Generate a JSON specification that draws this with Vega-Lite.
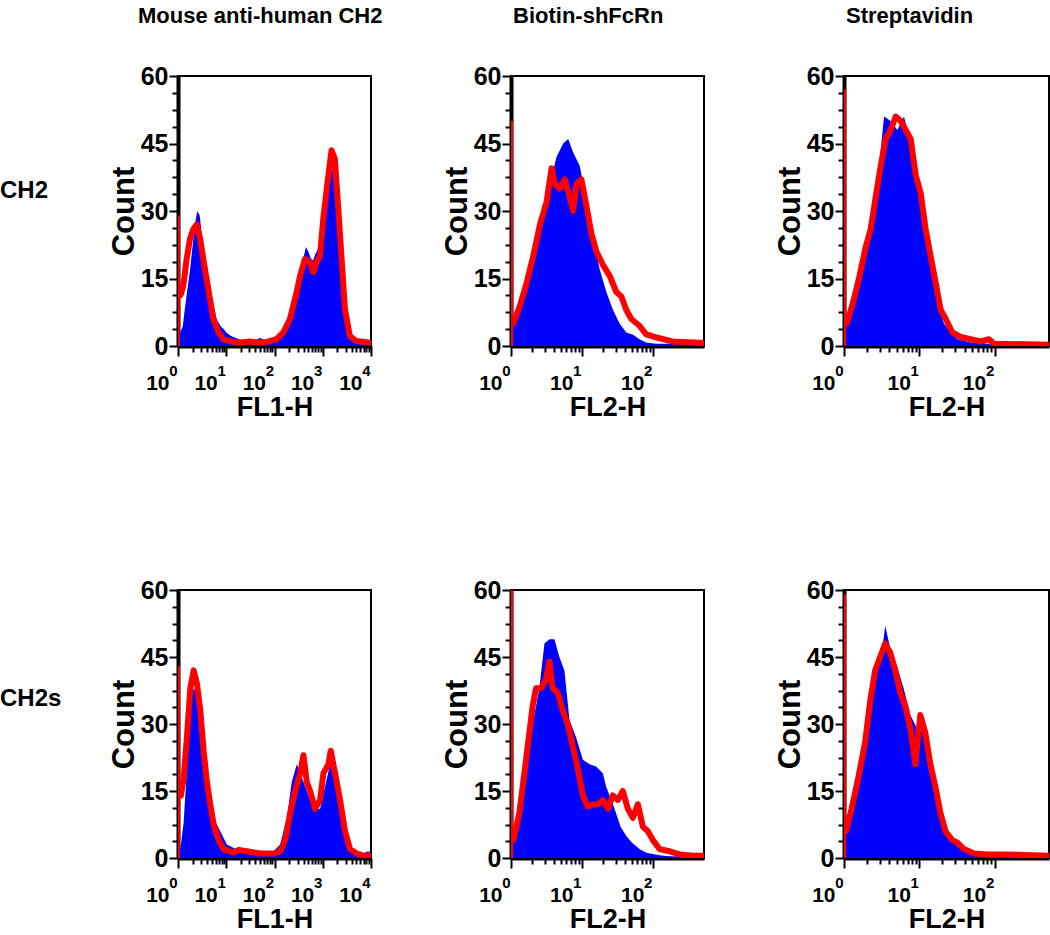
{
  "$schema": "https://vega.github.io/schema/vega-lite/v6.json",
  "padding": {"left": 0, "top": 4, "right": 0, "bottom": 0},
  "background": "white",
  "config": {
    "font": "Liberation Sans",
    "view": {"stroke": "black", "strokeWidth": 2},
    "title": {"font": "Liberation Sans", "fontSize": 22, "fontWeight": "bold", "color": "black", "anchor": "start", "frame": "group"},
    "axis": {
      "labelFont": "Liberation Sans", "labelFontSize": 25, "labelFontWeight": "bold", "labelColor": "black",
      "titleFont": "Liberation Sans", "titleFontWeight": "bold", "titleColor": "black",
      "domainColor": "black", "domainWidth": 4, "tickColor": "black", "tickWidth": 2,
      "grid": false, "labelOverlap": false, "labelBound": false, "zindex": 1
    },
    "axisX": {"labelAlign": "right", "labelFlush": false, "titleFontSize": 27, "titlePadding": 1},
    "axisY": {"labelPadding": 1, "titleFontSize": 31, "titlePadding": 0}
  },
  "columns": 4,
  "align": "each",
  "bounds": "flush",
  "spacing": {"row": 244, "column": 140},
  "concat": [
    {
      "width": 38, "height": 270,
      "view": {"stroke": null},
      "data": {"values": [{"label": "CH2"}]},
      "mark": {"type": "text", "align": "left", "baseline": "middle", "fontSize": 24, "fontWeight": "bold", "color": "black"},
      "encoding": {
        "text": {"field": "label"},
        "x": {"datum": 0, "type": "quantitative", "scale": {"domain": [0, 1]}, "axis": null},
        "y": {"datum": 0.574, "type": "quantitative", "scale": {"domain": [0, 1]}, "axis": null}
      }
    },
    {
      "width": 193, "height": 270,
      "title": {"text": "Mouse anti-human CH2", "dx": -40, "offset": 36},
      "resolve": {"axis": {"x": "independent"}},
      "encoding": {
        "y": {"field": "count", "type": "quantitative", "scale": {"domain": [0, 60], "nice": false},
          "axis": {"title": "Count", "values": [0,3.75,7.5,11.25,15,18.75,22.5,26.25,30,33.75,37.5,41.25,45,48.75,52.5,56.25,60],
            "labelExpr": "datum.value % 15 === 0 ? datum.label : ''",
            "tickSize": {"condition": {"test": "datum.value % 15 === 0", "value": 9}, "value": 6}}}
      },
      "layer": [
        {"data": {"values": [{"fl":1,"count":2},{"fl":1.122,"count":3},{"fl":1.259,"count":4.5},{"fl":1.413,"count":9},{"fl":1.585,"count":13},{"fl":1.778,"count":17},{"fl":1.995,"count":22},{"fl":2.239,"count":27},{"fl":2.512,"count":30},{"fl":2.818,"count":29},{"fl":3.162,"count":24},{"fl":3.548,"count":20.5},{"fl":3.981,"count":17.5},{"fl":4.467,"count":14},{"fl":5.012,"count":11},{"fl":5.623,"count":8.5},{"fl":6.31,"count":6},{"fl":7.079,"count":5},{"fl":7.943,"count":4.2},{"fl":8.913,"count":3.7},{"fl":10,"count":3},{"fl":12.59,"count":2.2},{"fl":15.85,"count":1.8},{"fl":19.95,"count":1.4},{"fl":25.12,"count":1},{"fl":31.62,"count":1.1},{"fl":39.81,"count":1.3},{"fl":50.12,"count":1.8},{"fl":63.1,"count":1.4},{"fl":79.43,"count":1.2},{"fl":100,"count":1.4},{"fl":125.9,"count":2.2},{"fl":158.5,"count":3.5},{"fl":199.5,"count":5.5},{"fl":251.2,"count":8},{"fl":316.2,"count":12},{"fl":354.8,"count":16},{"fl":398.1,"count":19.5},{"fl":446.7,"count":22},{"fl":501.2,"count":21},{"fl":562.3,"count":19.5},{"fl":631,"count":19},{"fl":707.9,"count":20.5},{"fl":794.3,"count":21.5},{"fl":891.3,"count":23},{"fl":1000,"count":29},{"fl":1122,"count":35},{"fl":1259,"count":39},{"fl":1413,"count":41},{"fl":1585,"count":39.5},{"fl":1778,"count":36},{"fl":1995,"count":32},{"fl":2239,"count":25},{"fl":2512,"count":17},{"fl":2818,"count":11},{"fl":3162,"count":4.5},{"fl":3548,"count":2},{"fl":3981,"count":1.1},{"fl":5012,"count":0.7},{"fl":6310,"count":0.5},{"fl":7943,"count":0.5},{"fl":10000,"count":0.6}]},
         "mark": {"type": "area", "color": "#0000ff", "clip": true},
         "encoding": {"x": {"field": "fl", "type": "quantitative", "scale": {"type": "log", "domain": [1, 10000], "nice": false},
           "axis": {"orient": "bottom", "title": "FL1-H", "values": [1,2,3,4,5,6,7,8,9,10,20,30,40,50,60,70,80,90,100,200,300,400,500,600,700,800,900,1000,2000,3000,4000,5000,6000,7000,8000,9000,10000],
             "labelExpr": "datum.value===1||datum.value===10||datum.value===100||datum.value===1000||datum.value===10000 ? '10' : ''",
             "labelFontSize": 21, "labelPadding": 16, "labelOffset": -9,
             "tickSize": {"condition": {"test": "datum.value===1||datum.value===10||datum.value===100||datum.value===1000||datum.value===10000", "value": 10}, "value": 6}}}}},
        {"data": {"values": [{"fl":1.047,"count":11},{"fl":1.148,"count":11.5},{"fl":1.29,"count":13.4},{"fl":1.51,"count":19.3},{"fl":1.77,"count":23.8},{"fl":2.08,"count":26},{"fl":2.44,"count":27},{"fl":2.86,"count":24},{"fl":3.35,"count":19.3},{"fl":3.9,"count":15},{"fl":4.6,"count":10.4},{"fl":5.4,"count":6},{"fl":6.9,"count":3},{"fl":8.7,"count":1.5},{"fl":14,"count":0.9},{"fl":20,"count":0.8},{"fl":30,"count":1},{"fl":45,"count":0.8},{"fl":70,"count":0.9},{"fl":110,"count":1.5},{"fl":152,"count":3},{"fl":209,"count":6},{"fl":288,"count":12},{"fl":339,"count":15.6},{"fl":427,"count":19.3},{"fl":545,"count":18.6},{"fl":636,"count":16.4},{"fl":745,"count":18.6},{"fl":876,"count":20},{"fl":1025,"count":28.3},{"fl":1211,"count":35},{"fl":1520,"count":43.5},{"fl":1780,"count":41.6},{"fl":2100,"count":30.5},{"fl":2460,"count":19.3},{"fl":2880,"count":8.2},{"fl":3650,"count":2.2},{"fl":5000,"count":1.1},{"fl":10000,"count":0.7}]},
         "mark": {"type": "line", "color": "#ff0000", "strokeWidth": 6, "strokeJoin": "round", "clip": true},
         "encoding": {"x": {"field": "fl", "type": "quantitative",
           "axis": {"orient": "bottom", "title": null, "domain": false, "tickOpacity": 0, "tickSize": 10, "values": [1,10,100,1000,10000],
             "labelExpr": "datum.value===1?'0':datum.value===10?'1':datum.value===100?'2':datum.value===1000?'3':'4'",
             "labelFontSize": 15, "labelPadding": 7, "labelOffset": -1}}}},
        {"data": {"values": [{"fl": 1.03, "count": 29}]},
         "mark": {"type": "rule", "color": "#ff0000", "strokeWidth": 2.5, "clip": true},
         "encoding": {"x": {"field": "fl", "type": "quantitative", "axis": null}, "y2": {"datum": 0}}}
      ]
    },
    {
      "width": 193, "height": 270,
      "title": {"text": "Biotin-shFcRn", "dx": 2, "offset": 36},
      "resolve": {"axis": {"x": "independent"}},
      "encoding": {
        "y": {"field": "count", "type": "quantitative", "scale": {"domain": [0, 60], "nice": false},
          "axis": {"title": "Count", "values": [0,3.75,7.5,11.25,15,18.75,22.5,26.25,30,33.75,37.5,41.25,45,48.75,52.5,56.25,60],
            "labelExpr": "datum.value % 15 === 0 ? datum.label : ''",
            "tickSize": {"condition": {"test": "datum.value % 15 === 0", "value": 9}, "value": 6}}}
      },
      "layer": [
        {"data": {"values": [{"fl":1,"count":4},{"fl":1.055,"count":4},{"fl":1.2,"count":7.5},{"fl":1.49,"count":12},{"fl":1.85,"count":17},{"fl":2.29,"count":23},{"fl":2.85,"count":30},{"fl":3.53,"count":36},{"fl":4.38,"count":42},{"fl":5.43,"count":45},{"fl":6.4,"count":46},{"fl":7.52,"count":43},{"fl":9.33,"count":40},{"fl":11.6,"count":32},{"fl":14.4,"count":24},{"fl":17.8,"count":17},{"fl":22.1,"count":12},{"fl":27.4,"count":8},{"fl":33.9,"count":5},{"fl":42.2,"count":3},{"fl":52.5,"count":2.5},{"fl":64.6,"count":1.5},{"fl":80.5,"count":0.8},{"fl":111,"count":0.5},{"fl":190,"count":0.5},{"fl":525,"count":0.5}]},
         "mark": {"type": "area", "color": "#0000ff", "clip": true},
         "encoding": {"x": {"field": "fl", "type": "quantitative", "scale": {"type": "log", "domain": [1, 525], "nice": false},
           "axis": {"orient": "bottom", "title": "FL2-H", "values": [1,2,3,4,5,6,7,8,9,10,20,30,40,50,60,70,80,90,100],
             "labelExpr": "datum.value===1||datum.value===10||datum.value===100 ? '10' : ''",
             "labelFontSize": 21, "labelPadding": 16, "labelOffset": -9,
             "tickSize": {"condition": {"test": "datum.value===1||datum.value===10||datum.value===100", "value": 10}, "value": 6}}}}},
        {"data": {"values": [{"fl":1.05,"count":5},{"fl":1.08,"count":5},{"fl":1.34,"count":9},{"fl":1.66,"count":14},{"fl":2.06,"count":20},{"fl":2.56,"count":27},{"fl":3.17,"count":32},{"fl":3.73,"count":39.5},{"fl":4.15,"count":36},{"fl":4.88,"count":35},{"fl":5.74,"count":37},{"fl":6.75,"count":33},{"fl":7.52,"count":30},{"fl":8.37,"count":36},{"fl":9.84,"count":37},{"fl":11.6,"count":31},{"fl":13.6,"count":25},{"fl":16,"count":21},{"fl":19.8,"count":18},{"fl":24.6,"count":15.6},{"fl":30.5,"count":12},{"fl":35.9,"count":11},{"fl":42.2,"count":8},{"fl":49.6,"count":6},{"fl":64.6,"count":4.5},{"fl":80.5,"count":2.6},{"fl":111,"count":1.9},{"fl":190,"count":1},{"fl":453,"count":0.7},{"fl":525,"count":0.7}]},
         "mark": {"type": "line", "color": "#ff0000", "strokeWidth": 6, "strokeJoin": "round", "clip": true},
         "encoding": {"x": {"field": "fl", "type": "quantitative",
           "axis": {"orient": "bottom", "title": null, "domain": false, "tickOpacity": 0, "tickSize": 10, "values": [1,10,100],
             "labelExpr": "datum.value===1?'0':datum.value===10?'1':'2'",
             "labelFontSize": 15, "labelPadding": 7, "labelOffset": -1}}}},
        {"data": {"values": [{"fl": 1.03, "count": 50}]},
         "mark": {"type": "rule", "color": "#ff0000", "strokeWidth": 2.5, "clip": true},
         "encoding": {"x": {"field": "fl", "type": "quantitative", "axis": null}, "y2": {"datum": 0}}}
      ]
    },
    {
      "width": 205, "height": 270,
      "title": {"text": "Streptavidin", "dx": 2, "offset": 36},
      "resolve": {"axis": {"x": "independent"}},
      "encoding": {
        "y": {"field": "count", "type": "quantitative", "scale": {"domain": [0, 60], "nice": false},
          "axis": {"title": "Count", "values": [0,3.75,7.5,11.25,15,18.75,22.5,26.25,30,33.75,37.5,41.25,45,48.75,52.5,56.25,60],
            "labelExpr": "datum.value % 15 === 0 ? datum.label : ''",
            "tickSize": {"condition": {"test": "datum.value % 15 === 0", "value": 9}, "value": 6}}}
      },
      "layer": [
        {"data": {"values": [{"fl":1,"count":5},{"fl":1.05,"count":5},{"fl":1.22,"count":10},{"fl":1.5,"count":14},{"fl":1.84,"count":20},{"fl":2.26,"count":29},{"fl":2.77,"count":36},{"fl":3.4,"count":51},{"fl":4.16,"count":50},{"fl":5.11,"count":48},{"fl":6.25,"count":51},{"fl":7.67,"count":45},{"fl":9.4,"count":37},{"fl":11.5,"count":29},{"fl":14.1,"count":20},{"fl":17.3,"count":10},{"fl":21.2,"count":5},{"fl":26.1,"count":3},{"fl":31.9,"count":1.5},{"fl":48,"count":0.8},{"fl":80,"count":0.5},{"fl":133,"count":0.8},{"fl":221,"count":0.8},{"fl":368,"count":0.6},{"fl":525,"count":0.3}]},
         "mark": {"type": "area", "color": "#0000ff", "clip": true},
         "encoding": {"x": {"field": "fl", "type": "quantitative", "scale": {"type": "log", "domain": [1, 525], "nice": false},
           "axis": {"orient": "bottom", "title": "FL2-H", "values": [1,2,3,4,5,6,7,8,9,10,20,30,40,50,60,70,80,90,100],
             "labelExpr": "datum.value===1||datum.value===10||datum.value===100 ? '10' : ''",
             "labelFontSize": 21, "labelPadding": 16, "labelOffset": -9,
             "tickSize": {"condition": {"test": "datum.value===1||datum.value===10||datum.value===100", "value": 10}, "value": 6}}}}},
        {"data": {"values": [{"fl":1.05,"count":5},{"fl":1.08,"count":5},{"fl":1.29,"count":9},{"fl":1.58,"count":15},{"fl":1.94,"count":22},{"fl":2.26,"count":26},{"fl":2.63,"count":33},{"fl":3.07,"count":40},{"fl":3.57,"count":46},{"fl":4.16,"count":48},{"fl":4.85,"count":51},{"fl":5.65,"count":50},{"fl":6.59,"count":48},{"fl":7.67,"count":46},{"fl":8.94,"count":38},{"fl":10.4,"count":34},{"fl":12.1,"count":26},{"fl":14.1,"count":20},{"fl":16.5,"count":14},{"fl":19.2,"count":8},{"fl":22.4,"count":6},{"fl":27.4,"count":3},{"fl":35.4,"count":2},{"fl":48,"count":1.5},{"fl":65.2,"count":1},{"fl":84.1,"count":1.5},{"fl":97.8,"count":0.5},{"fl":525,"count":0.3}]},
         "mark": {"type": "line", "color": "#ff0000", "strokeWidth": 6, "strokeJoin": "round", "clip": true},
         "encoding": {"x": {"field": "fl", "type": "quantitative",
           "axis": {"orient": "bottom", "title": null, "domain": false, "tickOpacity": 0, "tickSize": 10, "values": [1,10,100],
             "labelExpr": "datum.value===1?'0':datum.value===10?'1':'2'",
             "labelFontSize": 15, "labelPadding": 7, "labelOffset": -1}}}},
        {"data": {"values": [{"fl": 1.03, "count": 57}]},
         "mark": {"type": "rule", "color": "#ff0000", "strokeWidth": 2.5, "clip": true},
         "encoding": {"x": {"field": "fl", "type": "quantitative", "axis": null}, "y2": {"datum": 0}}}
      ]
    },
    {
      "width": 38, "height": 268,
      "view": {"stroke": null},
      "data": {"values": [{"label": "CH2s"}]},
      "mark": {"type": "text", "align": "left", "baseline": "middle", "fontSize": 24, "fontWeight": "bold", "color": "black"},
      "encoding": {
        "text": {"field": "label"},
        "x": {"datum": 0, "type": "quantitative", "scale": {"domain": [0, 1]}, "axis": null},
        "y": {"datum": 0.595, "type": "quantitative", "scale": {"domain": [0, 1]}, "axis": null}
      }
    },
    {
      "width": 193, "height": 268,
      "resolve": {"axis": {"x": "independent"}},
      "encoding": {
        "y": {"field": "count", "type": "quantitative", "scale": {"domain": [0, 60], "nice": false},
          "axis": {"title": "Count", "values": [0,3.75,7.5,11.25,15,18.75,22.5,26.25,30,33.75,37.5,41.25,45,48.75,52.5,56.25,60],
            "labelExpr": "datum.value % 15 === 0 ? datum.label : ''",
            "tickSize": {"condition": {"test": "datum.value % 15 === 0", "value": 9}, "value": 6}}}
      },
      "layer": [
        {"data": {"values": [{"fl":1,"count":1.5},{"fl":1.12,"count":2},{"fl":1.31,"count":8},{"fl":1.53,"count":20},{"fl":1.8,"count":34},{"fl":2.11,"count":38},{"fl":2.47,"count":37},{"fl":2.9,"count":35},{"fl":3.4,"count":27},{"fl":3.98,"count":21},{"fl":4.67,"count":14},{"fl":5.47,"count":9},{"fl":7.52,"count":6},{"fl":10.3,"count":3},{"fl":19.5,"count":1.5},{"fl":50.5,"count":1.2},{"fl":95.3,"count":1.5},{"fl":131,"count":3},{"fl":180,"count":9},{"fl":228,"count":17},{"fl":290,"count":21},{"fl":368,"count":18},{"fl":467,"count":15},{"fl":641,"count":11},{"fl":881,"count":11},{"fl":1117,"count":16},{"fl":1419,"count":21},{"fl":1799,"count":20},{"fl":2286,"count":12},{"fl":2897,"count":5},{"fl":3681,"count":2},{"fl":5916,"count":0.8},{"fl":8810,"count":1.5},{"fl":10000,"count":1}]},
         "mark": {"type": "area", "color": "#0000ff", "clip": true},
         "encoding": {"x": {"field": "fl", "type": "quantitative", "scale": {"type": "log", "domain": [1, 10000], "nice": false},
           "axis": {"orient": "bottom", "title": "FL1-H", "values": [1,2,3,4,5,6,7,8,9,10,20,30,40,50,60,70,80,90,100,200,300,400,500,600,700,800,900,1000,2000,3000,4000,5000,6000,7000,8000,9000,10000],
             "labelExpr": "datum.value===1||datum.value===10||datum.value===100||datum.value===1000||datum.value===10000 ? '10' : ''",
             "labelFontSize": 21, "labelPadding": 16, "labelOffset": -9,
             "tickSize": {"condition": {"test": "datum.value===1||datum.value===10||datum.value===100||datum.value===1000||datum.value===10000", "value": 10}, "value": 6}}}}},
        {"data": {"values": [{"fl":1.05,"count":14},{"fl":1.15,"count":14},{"fl":1.31,"count":18},{"fl":1.53,"count":27},{"fl":1.8,"count":38},{"fl":2.11,"count":42},{"fl":2.47,"count":39},{"fl":2.9,"count":33},{"fl":3.4,"count":24},{"fl":3.98,"count":17},{"fl":4.67,"count":12},{"fl":5.47,"count":7.5},{"fl":6.94,"count":4},{"fl":8.81,"count":2},{"fl":14.2,"count":1.2},{"fl":18,"count":1.8},{"fl":26.8,"count":1.5},{"fl":50.5,"count":1},{"fl":95.3,"count":1},{"fl":131,"count":1.5},{"fl":166,"count":4},{"fl":211,"count":10},{"fl":268,"count":15},{"fl":340,"count":19},{"fl":398,"count":23},{"fl":467,"count":17},{"fl":547,"count":15},{"fl":693,"count":11},{"fl":881,"count":13},{"fl":1032,"count":19},{"fl":1309,"count":21},{"fl":1466,"count":24},{"fl":1799,"count":19},{"fl":2286,"count":13},{"fl":2897,"count":6},{"fl":3681,"count":2},{"fl":5047,"count":1},{"fl":8128,"count":0.3},{"fl":10000,"count":0.8}]},
         "mark": {"type": "line", "color": "#ff0000", "strokeWidth": 6, "strokeJoin": "round", "clip": true},
         "encoding": {"x": {"field": "fl", "type": "quantitative",
           "axis": {"orient": "bottom", "title": null, "domain": false, "tickOpacity": 0, "tickSize": 10, "values": [1,10,100,1000,10000],
             "labelExpr": "datum.value===1?'0':datum.value===10?'1':datum.value===100?'2':datum.value===1000?'3':'4'",
             "labelFontSize": 15, "labelPadding": 7, "labelOffset": -1}}}},
        {"data": {"values": [{"fl": 1.03, "count": 43}]},
         "mark": {"type": "rule", "color": "#ff0000", "strokeWidth": 2.5, "clip": true},
         "encoding": {"x": {"field": "fl", "type": "quantitative", "axis": null}, "y2": {"datum": 0}}}
      ]
    },
    {
      "width": 193, "height": 268,
      "resolve": {"axis": {"x": "independent"}},
      "encoding": {
        "y": {"field": "count", "type": "quantitative", "scale": {"domain": [0, 60], "nice": false},
          "axis": {"title": "Count", "values": [0,3.75,7.5,11.25,15,18.75,22.5,26.25,30,33.75,37.5,41.25,45,48.75,52.5,56.25,60],
            "labelExpr": "datum.value % 15 === 0 ? datum.label : ''",
            "tickSize": {"condition": {"test": "datum.value % 15 === 0", "value": 9}, "value": 6}}}
      },
      "layer": [
        {"data": {"values": [{"fl":1,"count":4},{"fl":1.06,"count":4},{"fl":1.31,"count":12},{"fl":1.63,"count":20},{"fl":2.02,"count":30},{"fl":2.51,"count":38},{"fl":2.96,"count":48},{"fl":3.48,"count":49},{"fl":4.09,"count":49},{"fl":4.81,"count":45},{"fl":5.66,"count":42},{"fl":6.66,"count":31},{"fl":8.28,"count":27},{"fl":10.3,"count":22},{"fl":12.8,"count":21},{"fl":15.8,"count":20.5},{"fl":19.7,"count":19},{"fl":21.9,"count":16},{"fl":28.8,"count":11},{"fl":35,"count":7},{"fl":42,"count":5},{"fl":50,"count":3.5},{"fl":64.6,"count":2},{"fl":80.5,"count":1.2},{"fl":124,"count":0.6},{"fl":191,"count":0.3},{"fl":525,"count":0.2}]},
         "mark": {"type": "area", "color": "#0000ff", "clip": true},
         "encoding": {"x": {"field": "fl", "type": "quantitative", "scale": {"type": "log", "domain": [1, 525], "nice": false},
           "axis": {"orient": "bottom", "title": "FL2-H", "values": [1,2,3,4,5,6,7,8,9,10,20,30,40,50,60,70,80,90,100],
             "labelExpr": "datum.value===1||datum.value===10||datum.value===100 ? '10' : ''",
             "labelFontSize": 21, "labelPadding": 16, "labelOffset": -9,
             "tickSize": {"condition": {"test": "datum.value===1||datum.value===10||datum.value===100", "value": 10}, "value": 6}}}}},
        {"data": {"values": [{"fl":1.05,"count":4},{"fl":1.08,"count":4},{"fl":1.31,"count":10},{"fl":1.63,"count":22},{"fl":2.02,"count":34},{"fl":2.25,"count":38},{"fl":2.65,"count":38},{"fl":3.12,"count":40},{"fl":3.48,"count":44},{"fl":3.87,"count":38},{"fl":4.56,"count":37},{"fl":5.36,"count":33},{"fl":6.31,"count":30},{"fl":7.42,"count":25},{"fl":8.73,"count":20},{"fl":10.3,"count":14},{"fl":12.1,"count":11.5},{"fl":14.2,"count":12},{"fl":16.7,"count":12},{"fl":19.7,"count":13},{"fl":23.2,"count":11},{"fl":27.2,"count":14},{"fl":32.1,"count":13},{"fl":37.7,"count":15},{"fl":44.4,"count":11},{"fl":52.2,"count":9},{"fl":61.4,"count":12},{"fl":72.3,"count":7},{"fl":85,"count":6},{"fl":100,"count":4},{"fl":124,"count":2},{"fl":172,"count":1.5},{"fl":238,"count":0.8},{"fl":367,"count":0.5},{"fl":525,"count":0.5}]},
         "mark": {"type": "line", "color": "#ff0000", "strokeWidth": 6, "strokeJoin": "round", "clip": true},
         "encoding": {"x": {"field": "fl", "type": "quantitative",
           "axis": {"orient": "bottom", "title": null, "domain": false, "tickOpacity": 0, "tickSize": 10, "values": [1,10,100],
             "labelExpr": "datum.value===1?'0':datum.value===10?'1':'2'",
             "labelFontSize": 15, "labelPadding": 7, "labelOffset": -1}}}},
        {"data": {"values": [{"fl": 1.03, "count": 60}]},
         "mark": {"type": "rule", "color": "#ff0000", "strokeWidth": 2.5, "clip": true},
         "encoding": {"x": {"field": "fl", "type": "quantitative", "axis": null}, "y2": {"datum": 0}}}
      ]
    },
    {
      "width": 205, "height": 268,
      "resolve": {"axis": {"x": "independent"}},
      "encoding": {
        "y": {"field": "count", "type": "quantitative", "scale": {"domain": [0, 60], "nice": false},
          "axis": {"title": "Count", "values": [0,3.75,7.5,11.25,15,18.75,22.5,26.25,30,33.75,37.5,41.25,45,48.75,52.5,56.25,60],
            "labelExpr": "datum.value % 15 === 0 ? datum.label : ''",
            "tickSize": {"condition": {"test": "datum.value % 15 === 0", "value": 9}, "value": 6}}}
      },
      "layer": [
        {"data": {"values": [{"fl":1,"count":6},{"fl":1.04,"count":6},{"fl":1.2,"count":10},{"fl":1.47,"count":15},{"fl":1.81,"count":23},{"fl":2.22,"count":33},{"fl":2.73,"count":42},{"fl":3.18,"count":46},{"fl":3.52,"count":52},{"fl":4.1,"count":47},{"fl":5.04,"count":43},{"fl":6.18,"count":38},{"fl":7.59,"count":32},{"fl":9.31,"count":29},{"fl":11.4,"count":28},{"fl":14,"count":24},{"fl":17.2,"count":16},{"fl":21.1,"count":9},{"fl":25.9,"count":4.5},{"fl":31.8,"count":2.5},{"fl":47.9,"count":1.2},{"fl":79.8,"count":1},{"fl":133,"count":0.8},{"fl":302,"count":0.6},{"fl":525,"count":0.3}]},
         "mark": {"type": "area", "color": "#0000ff", "clip": true},
         "encoding": {"x": {"field": "fl", "type": "quantitative", "scale": {"type": "log", "domain": [1, 525], "nice": false},
           "axis": {"orient": "bottom", "title": "FL2-H", "values": [1,2,3,4,5,6,7,8,9,10,20,30,40,50,60,70,80,90,100],
             "labelExpr": "datum.value===1||datum.value===10||datum.value===100 ? '10' : ''",
             "labelFontSize": 21, "labelPadding": 16, "labelOffset": -9,
             "tickSize": {"condition": {"test": "datum.value===1||datum.value===10||datum.value===100", "value": 10}, "value": 6}}}}},
        {"data": {"values": [{"fl":1.05,"count":6},{"fl":1.06,"count":6},{"fl":1.26,"count":11},{"fl":1.55,"count":18},{"fl":1.91,"count":26},{"fl":2.22,"count":35},{"fl":2.59,"count":42},{"fl":3.02,"count":45},{"fl":3.52,"count":48},{"fl":4.1,"count":46},{"fl":4.79,"count":42},{"fl":5.58,"count":37},{"fl":6.51,"count":34},{"fl":7.59,"count":29},{"fl":8.85,"count":21},{"fl":10.3,"count":32},{"fl":12,"count":28},{"fl":14,"count":21},{"fl":16.3,"count":16},{"fl":19.1,"count":10},{"fl":22.2,"count":6},{"fl":27.3,"count":4},{"fl":31.8,"count":3.5},{"fl":39,"count":2},{"fl":53,"count":1},{"fl":79.8,"count":0.8},{"fl":133,"count":0.8},{"fl":525,"count":0.5}]},
         "mark": {"type": "line", "color": "#ff0000", "strokeWidth": 6, "strokeJoin": "round", "clip": true},
         "encoding": {"x": {"field": "fl", "type": "quantitative",
           "axis": {"orient": "bottom", "title": null, "domain": false, "tickOpacity": 0, "tickSize": 10, "values": [1,10,100],
             "labelExpr": "datum.value===1?'0':datum.value===10?'1':'2'",
             "labelFontSize": 15, "labelPadding": 7, "labelOffset": -1}}}},
        {"data": {"values": [{"fl": 1.03, "count": 59}]},
         "mark": {"type": "rule", "color": "#ff0000", "strokeWidth": 2.5, "clip": true},
         "encoding": {"x": {"field": "fl", "type": "quantitative", "axis": null}, "y2": {"datum": 0}}}
      ]
    }
  ]
}
